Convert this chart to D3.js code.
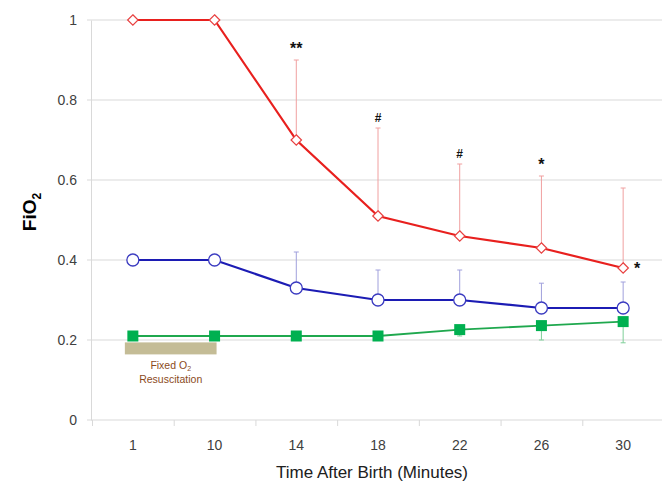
<!DOCTYPE html>
<html>
<head>
<meta charset="utf-8">
<script src="https://cdn.jsdelivr.net/npm/d3@7"></script>
<style>
  body { margin: 0; background: #fff; }
  text { font-family: "Liberation Sans", Arial, sans-serif; }
</style>
</head>
<body>
<div id="chart"></div>
<script>
// data
const times = ["1", "10", "14", "18", "22", "26", "30"];
const redValues = [1, 1, 0.7, 0.51, 0.46, 0.43, 0.38];
const redUpper = [null, null, 0.9, 0.73, 0.64, 0.61, 0.58];
const blueValues = [0.4, 0.4, 0.33, 0.3, 0.3, 0.28, 0.28];
const blueUpper = [null, null, 0.42, 0.375, 0.375, 0.342, 0.345];
const greenValues = [0.21, 0.21, 0.21, 0.21, 0.226, 0.236, 0.246];
const greenLower = [null, null, null, null, 0.21, 0.2, 0.193];
const marks = ["", "", "**", "#", "#", "*", "*"];
const yTicks = [0, 0.2, 0.4, 0.6, 0.8, 1];

function main() {
    const svg = d3.select("#chart").append("svg")
        .attr("width", 662)
        .attr("height", 484);

    const x = d3.scaleBand().domain(times).range([92, 664]);
    const y = d3.scaleLinear().domain([0, 1]).range([420, 20]);
    const cx = d => x(d) + x.bandwidth() / 2;

    // gridlines
    svg.append("g").selectAll("line")
        .data(yTicks)
        .join("line")
        .attr("x1", 87).attr("x2", 662)
        .attr("y1", d => y(d)).attr("y2", d => y(d))
        .attr("stroke", "#d9d9d9").attr("stroke-width", 1);

    // y axis
    const yAxis = svg.append("g")
        .attr("transform", "translate(91,0)")
        .call(d3.axisLeft(y).tickValues(yTicks).tickSize(0).tickPadding(14)
            .tickFormat(d => d === 0 || d === 1 ? d : d3.format(".1f")(d)));
    yAxis.select(".domain").attr("stroke", "#d9d9d9");
    yAxis.selectAll("text").attr("font-size", "14px").attr("fill", "#404040")
        .attr("font-family", "'Liberation Sans', Arial, sans-serif");

    // x axis
    const xAxis = svg.append("g")
        .attr("transform", "translate(0,420)")
        .call(d3.axisBottom(x).tickSize(0).tickPadding(20));
    xAxis.select(".domain").remove();
    xAxis.selectAll("text").attr("font-size", "14px").attr("fill", "#404040")
        .attr("font-family", "'Liberation Sans', Arial, sans-serif");
    svg.append("g").selectAll("line")
        .data(times)
        .join("line")
        .attr("x1", d => x(d) + 0.5).attr("x2", d => x(d) + 0.5)
        .attr("y1", 420).attr("y2", 426)
        .attr("stroke", "#d9d9d9");

    // axis titles
    svg.append("text")
        .attr("x", 372).attr("y", 478)
        .attr("text-anchor", "middle")
        .attr("font-size", "17px")
        .attr("fill", "#202020")
        .text("Time After Birth (Minutes)");

    const yTitle = svg.append("text")
        .attr("transform", "translate(36,212) rotate(-90)")
        .attr("text-anchor", "middle")
        .attr("font-size", "19px")
        .attr("font-weight", "bold")
        .attr("fill", "#000");
    yTitle.append("tspan").text("FiO");
    yTitle.append("tspan").attr("font-size", "12px").attr("dy", 5).text("2");

    // fixed O2 box
    svg.append("rect")
        .attr("x", cx("1") - 8).attr("y", y(0.194))
        .attr("width", cx("10") - cx("1") + 10).attr("height", 12)
        .attr("fill", "#c4bc96");
    const lab = svg.append("text")
        .attr("x", (cx("1") + cx("10")) / 2 - 3).attr("y", 369)
        .attr("text-anchor", "middle")
        .attr("font-size", "10.5px")
        .attr("fill", "#8b4a1c");
    lab.append("tspan").text("Fixed O");
    lab.append("tspan").attr("font-size", "7px").attr("dy", 2).text("2");
    svg.append("text")
        .attr("x", (cx("1") + cx("10")) / 2 - 3).attr("y", 383)
        .attr("text-anchor", "middle")
        .attr("font-size", "10.5px")
        .attr("fill", "#8b4a1c")
        .text("Resuscitation");

    const line = d3.line().x((d, i) => cx(times[i])).y(d => y(d));

    // error bars
    function bars(vals, ends, color) {
        const g = svg.append("g");
        times.forEach((t, i) => {
            if (ends[i] == null) return;
            g.append("line")
                .attr("x1", cx(t)).attr("x2", cx(t))
                .attr("y1", y(vals[i])).attr("y2", y(ends[i]))
                .attr("stroke", color).attr("stroke-width", 1);
            g.append("line")
                .attr("x1", cx(t) - 2.5).attr("x2", cx(t) + 2.5)
                .attr("y1", y(ends[i])).attr("y2", y(ends[i]))
                .attr("stroke", color).attr("stroke-width", 1);
        });
    }
    bars(redValues, redUpper, "#f0a0a0");
    bars(blueValues, blueUpper, "#a0a0dc");
    bars(greenValues, greenLower, "#7fcf99");

    // green series
    svg.append("path").datum(greenValues)
        .attr("fill", "none").attr("stroke", "#1fa84e").attr("stroke-width", 1.8)
        .attr("d", line);
    svg.append("g").selectAll("rect")
        .data(greenValues)
        .join("rect")
        .attr("x", (d, i) => cx(times[i]) - 5.5)
        .attr("y", d => y(d) - 5.5)
        .attr("width", 11).attr("height", 11)
        .attr("fill", "#00b050");

    // blue series
    svg.append("path").datum(blueValues)
        .attr("fill", "none").attr("stroke", "#1c1cb4").attr("stroke-width", 2.2)
        .attr("d", line);
    svg.append("g").selectAll("circle")
        .data(blueValues)
        .join("circle")
        .attr("cx", (d, i) => cx(times[i]))
        .attr("cy", d => y(d))
        .attr("r", 6)
        .attr("fill", "#fff")
        .attr("stroke", "#3a3ac0").attr("stroke-width", 1.3);

    // red series
    svg.append("path").datum(redValues)
        .attr("fill", "none").attr("stroke", "#e8201e").attr("stroke-width", 2.2)
        .attr("d", line);
    svg.append("g").selectAll("path")
        .data(redValues)
        .join("path")
        .attr("d", d3.symbol().type(d3.symbolDiamond2).size(70))
        .attr("transform", (d, i) => "translate(" + cx(times[i]) + "," + y(d) + ")")
        .attr("fill", "#fff")
        .attr("stroke", "#e84040").attr("stroke-width", 1.2);

    // significance marks
    svg.append("g").selectAll("text")
        .data(marks)
        .join("text")
        .attr("x", (d, i) => i === 6 ? cx(times[i]) + 14 : cx(times[i]))
        .attr("y", (d, i) => i === 6 ? y(redValues[i]) + 6 : y(redUpper[i] || 0) - 6)
        .attr("text-anchor", "middle")
        .attr("font-size", (d, i) => d === "#" ? "12px" : "16px")
        .attr("font-weight", "bold")
        .attr("fill", "#111")
        .text(d => d);
}
main();
</script>
</body>
</html>
